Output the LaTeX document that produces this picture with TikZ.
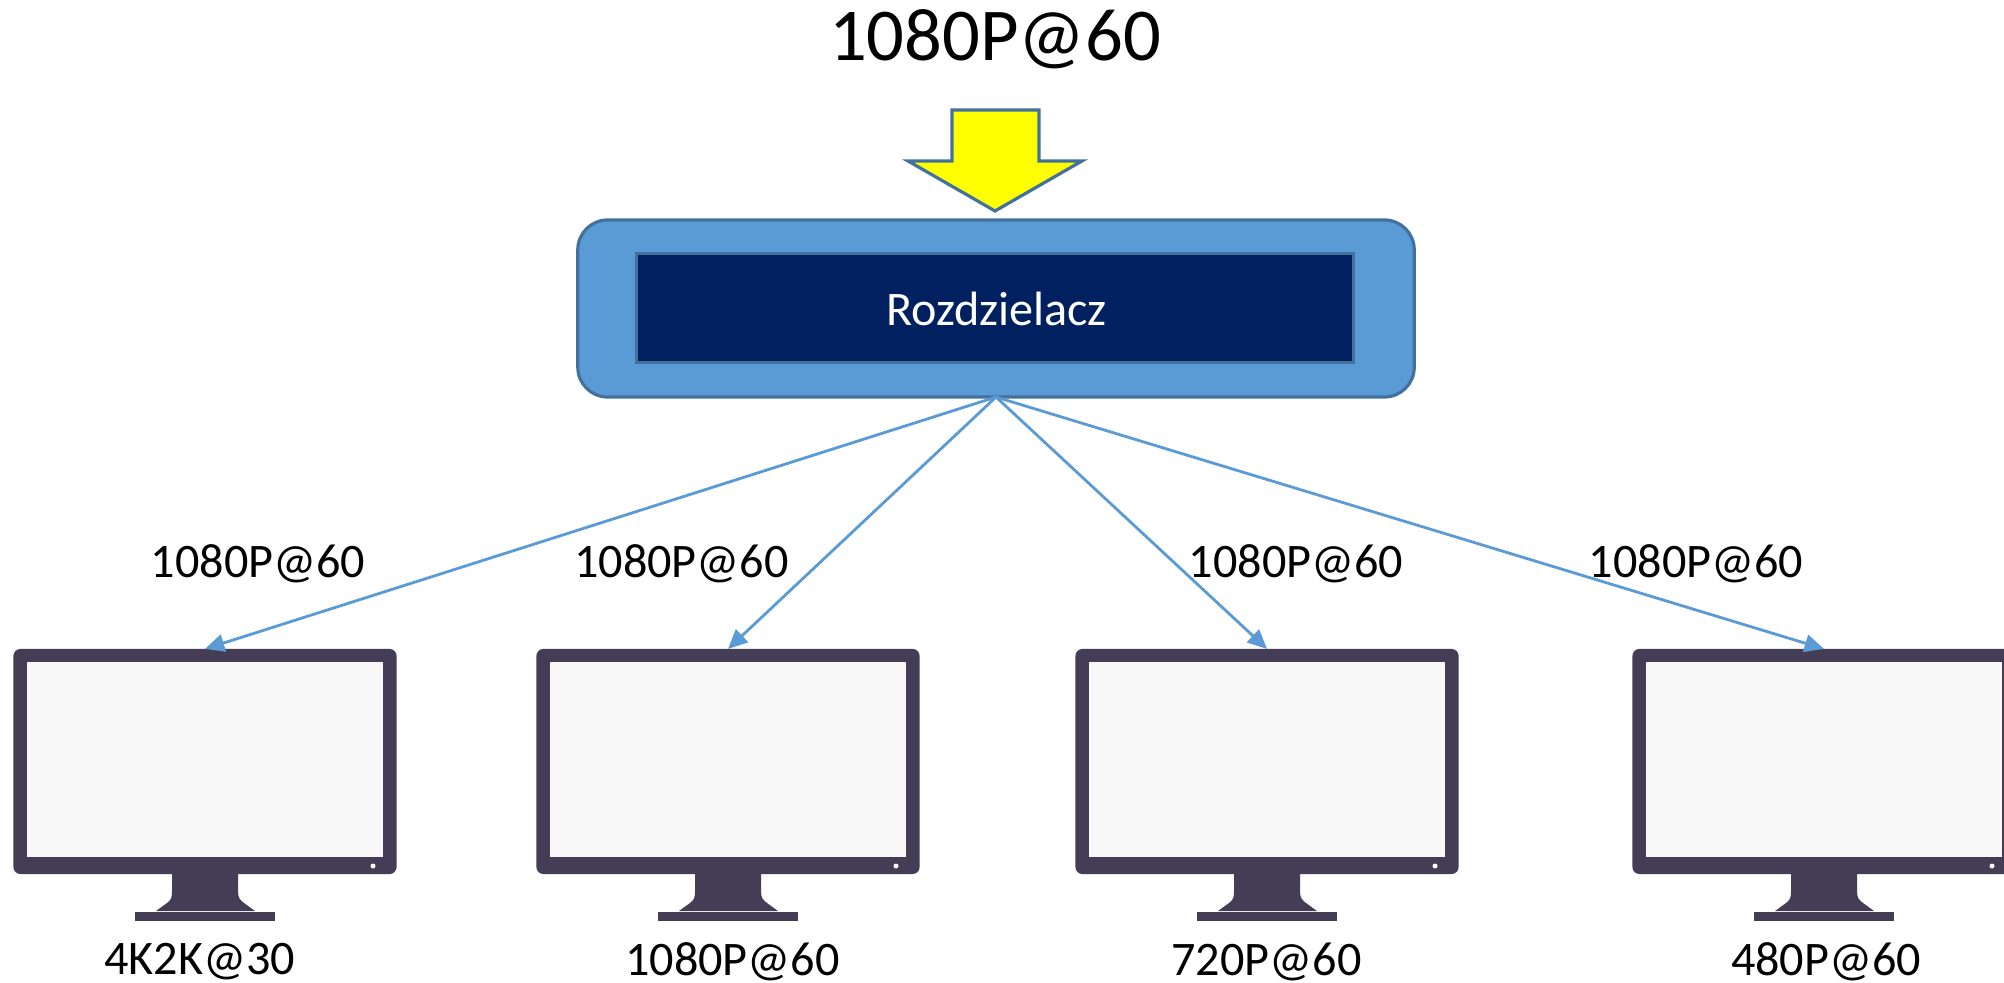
\documentclass[tikz,border=0pt]{standalone}
\usepackage{fontspec}
\setmainfont{Carlito}
\usetikzlibrary{arrows.meta}
\definecolor{boxblue}{HTML}{5B9BD5}
\definecolor{boxline}{HTML}{41719C}
\definecolor{navy}{HTML}{002060}
\definecolor{arrowfill}{HTML}{FFFF00}
\definecolor{monframe}{HTML}{433E55}
\definecolor{monscreen}{HTML}{F8F8F8}
\tikzset{>={Triangle[length=5.5pt,width=5pt]}}
\tikzset{lab/.style={inner sep=0pt,font=\fontsize{13.7}{16}\selectfont},
  link/.style={->,boxblue,line width=.8pt}}

\begin{document}
\begin{tikzpicture}[x=.01cm,y=-.01cm]
\useasboundingbox (0,0) rectangle (2004,983);
\node[inner sep=0pt,font=\fontsize{21.2}{24}\selectfont] (title) at (995,39) {1080P@60};
\draw[boxline,fill=arrowfill,line width=.9pt] (952,110) -- (1039,110) -- (1039,161) -- (1082,161)
  -- (995,211) -- (908,161) -- (952,161) -- cycle;
\node[draw=boxline,fill=boxblue,line width=.9pt,rounded corners=8.5pt,outer sep=0pt,
  minimum width=8.36cm,minimum height=1.77cm] (split) at (996,308.5) {};
\node[draw=boxline,fill=navy,line width=.9pt,text=white,outer sep=0pt,text depth=.4pt,
  minimum width=7.16cm,minimum height=1.09cm,font=\fontsize{13.7}{16}\selectfont] (inner) at (995,308) {};
\node[text=white,inner sep=0pt,font=\fontsize{13.7}{16}\selectfont] (name) at (996.5,309) {Rozdzielacz};
% monitors
\foreach \n/\dx in {1/0,2/523,3/1062,4/1619}{
\begin{scope}[xshift=\dx*.01cm]
\fill[monframe] (172,870) -- (238,870) -- (238,891) .. controls (238,898) and (240,900) .. (244,903)
  -- (255,911) -- (156,911) -- (167,903) .. controls (171,900) and (172,898) .. (172,891) -- cycle;
\fill[monframe] (135,912) rectangle (275,921);
\node[fill=monframe,rounded corners=2pt,outer sep=0pt,minimum width=3.83cm,minimum height=2.25cm] (mon\n) at (205,761.5) {};
\fill[monscreen] (26.7,662) rectangle (383,857);
\fill[white] (373,866) circle (2.5);
\end{scope}
}
\draw[link] (split.south) -- (mon1.north);
\draw[link] (split.south) -- (mon2.north);
\draw[link] (split.south) -- (mon3.north);
\draw[link] (split.south) -- (mon4.north);
\node[lab] (in1) at (258,564) {1080P@60};
\node[lab] (in2) at (681.5,564) {1080P@60};
\node[lab] (in3) at (1296,564) {1080P@60};
\node[lab] (in4) at (1696,564) {1080P@60};
\node[lab] (out1) at (199.5,962) {4K2K@30};
\node[lab] (out2) at (732.5,962) {1080P@60};
\node[lab] (out3) at (1266.5,962) {720P@60};
\node[lab] (out4) at (1826,962) {480P@60};
\end{tikzpicture}
\end{document}
